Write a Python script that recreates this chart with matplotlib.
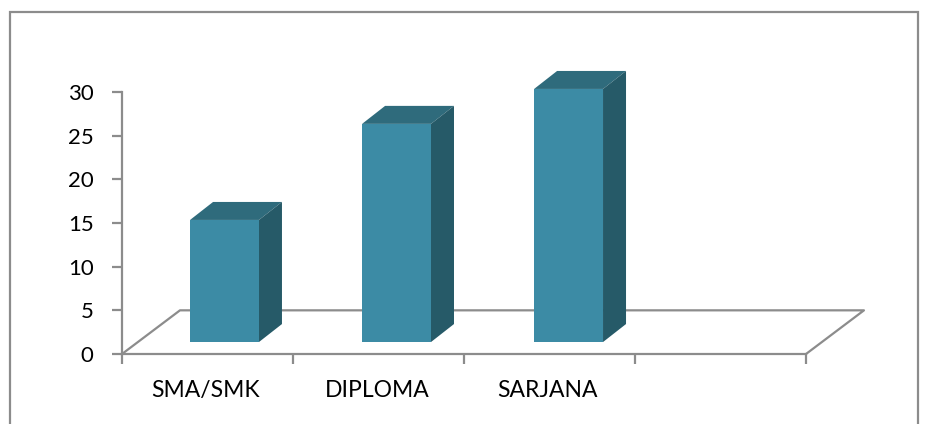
import matplotlib.pyplot as plt
from matplotlib.patches import Polygon, Rectangle

categories = ['SMA/SMK', 'DIPLOMA', 'SARJANA', '']
values = [15, 26, 30]
y_ticks = [0, 5, 10, 15, 20, 25, 30]

W, H = 927, 424
GRAY = '#8c8c8c'
FRONT = '#3c8ba5'
TOP = '#2f6b7c'
SIDE = '#265a68'

plt.rcParams['font.family'] = ['Lato', 'DejaVu Sans']

fig = plt.figure(figsize=(W / 100, H / 100), dpi=100)
fig.add_artist(Rectangle((10 / W, -0.01), 908 / W, 1 - 12 / H + 0.01, transform=fig.transFigure,
                         fill=False, ec=GRAY, lw=1.6))

# axes box matches the front edge of the floor
ax = fig.add_axes([122 / W, 1 - 354 / H, 684 / W, 262 / H])
ax.set_xlim(0, 4)
ax.set_ylim(0, 30)
for s in ['top', 'right']:
    ax.spines[s].set_visible(False)
for s in ['left', 'bottom']:
    ax.spines[s].set_color(GRAY)
    ax.spines[s].set_linewidth(1.6)

ax.set_yticks(y_ticks)
ax.set_xticks([0, 1, 2, 3, 4])
ax.set_xticklabels([])
ax.tick_params(axis='both', length=7, width=1.6, color=GRAY, labelsize=16, labelcolor='black')
ax.tick_params(axis='y', pad=13.5)
for i, c in enumerate(categories):
    ax.text(i + 0.49, -4.15, c, ha='center', va='center', fontsize=16.5, color='black')

# floor
dx, dy = 0.339, 5
ax.plot([0, dx, 4 + dx, 4], [0, dy, dy, 0], color=GRAY, lw=1.6, clip_on=False, zorder=1)

# fake 3d bars
base = 1.37
lift = 0.35
w = 0.403
bx, by = 0.1345, 2.06
for i, v in enumerate(values):
    x0 = i * 1.006 + 0.398
    x1 = x0 + w
    t = v + lift
    ax.add_patch(Polygon([(x0, t), (x1, t), (x1 + bx, t + by), (x0 + bx, t + by)],
                         fc=TOP, ec='none', clip_on=False, zorder=3))
    ax.add_patch(Polygon([(x1, base), (x1 + bx, base + by), (x1 + bx, t + by), (x1, t)],
                         fc=SIDE, ec='none', clip_on=False, zorder=3))
    ax.bar(x0, t - base, width=w, bottom=base, align='edge', color=FRONT, clip_on=False, zorder=4)

fig.savefig('out.png', dpi=100)
